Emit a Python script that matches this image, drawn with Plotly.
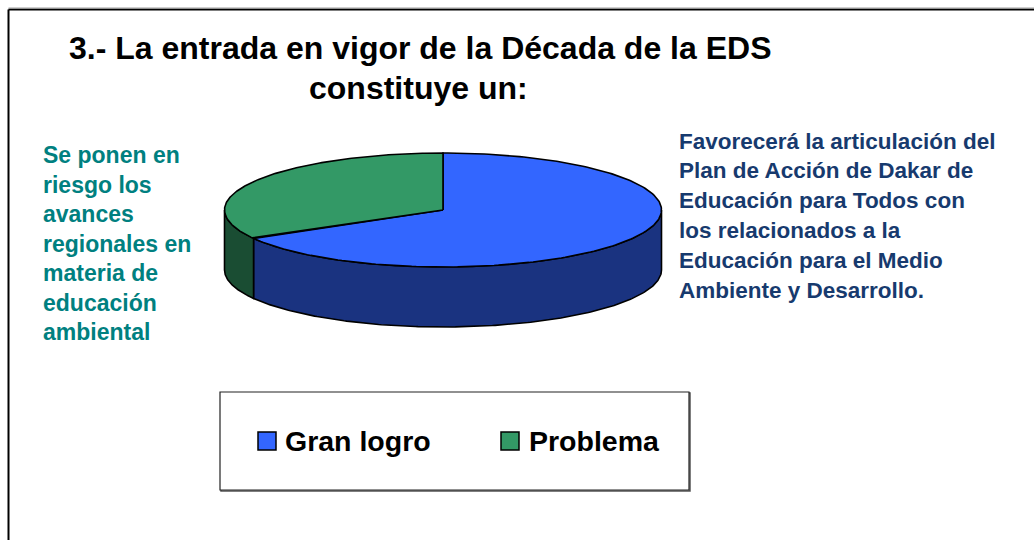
import numpy as np
import plotly.graph_objects as go

# ---------------- data ----------------
categories = ["Gran logro", "Problema"]
values = [66.7, 33.3]
top_colors = ["#3366FF", "#339966"]
side_colors = ["#1A3380", "#1A4D33"]

title_lines = ["3.- La entrada en vigor de la Década de la EDS", "constituye un:"]
left_label_lines = ["Se ponen en", "riesgo los", "avances", "regionales en",
                    "materia de", "educación", "ambiental"]
right_label_lines = ["Favorecerá la articulación del", "Plan de Acción de Dakar de",
                     "Educación para Todos con", "los relacionados a la",
                     "Educación para el Medio", "Ambiente y Desarrollo."]

# ---------------- layout / style constants (screen-pixel coordinates) ----------------
W, H = 1034, 540
CX, CY = 443, 210         # pie centre (top face)
RX, RY = 218.5, 57        # ellipse radii
DEPTH = 60                # pie thickness
FONT = "Liberation Sans, Arial, sans-serif"


def arc(t0, t1, dy=0.0, n=200):
    t = np.radians(np.linspace(t0, t1, n))
    return CX + RX * np.cos(t), CY + dy + RY * np.sin(t)


fig = go.Figure()

total = float(sum(values))
angles = []
start = -90.0
for v in values:
    end = start + 360.0 * v / total
    angles.append((start, end))
    start = end

# visible front sides (theta between 0 and 180 in screen coordinates)
for (t0, t1), col in zip(angles, side_colors):
    for k in (0, 360, -360):
        s0, s1 = max(t0 + k, 0.0), min(t1 + k, 180.0)
        if s1 > s0:
            xa, ya = arc(s0, s1)
            xb, yb = arc(s1, s0, DEPTH)
            xs = np.concatenate([xa, xb, xa[:1]])
            ys = np.concatenate([ya, yb, ya[:1]])
            fig.add_trace(go.Scatter(x=xs, y=ys, mode="lines", fill="toself",
                                     fillcolor=col, line=dict(color="black", width=1.6),
                                     hoverinfo="skip", showlegend=False))

# top faces
for (t0, t1), col in zip(angles, top_colors):
    xa, ya = arc(t0, t1)
    xs = np.concatenate([[CX], xa, [CX]])
    ys = np.concatenate([[CY], ya, [CY]])
    fig.add_trace(go.Scatter(x=xs, y=ys, mode="lines", fill="toself",
                             fillcolor=col, line=dict(color="black", width=1.6),
                             hoverinfo="skip", showlegend=False))

# legend markers
LEG_MARK_X = [267, 510]
LEG_Y = 441
fig.add_trace(go.Scatter(x=LEG_MARK_X, y=[LEG_Y] * len(categories), mode="markers",
                         marker=dict(symbol="square", size=18, color=top_colors,
                                     line=dict(color="black", width=1.5)),
                         hoverinfo="skip", showlegend=False))

annotations = []
# title
for txt, (x, y) in zip(title_lines, [(420, 48), (418, 88)]):
    annotations.append(dict(x=x, y=y, text=txt, showarrow=False, xanchor="center",
                            yanchor="middle",
                            font=dict(family=FONT, size=32, color="black", weight="bold")))
# left label
for i, txt in enumerate(left_label_lines):
    annotations.append(dict(x=41, y=155 + 29.5 * i, text=txt, showarrow=False,
                            xanchor="left", yanchor="middle",
                            font=dict(family=FONT, size=23, color="#008080", weight="bold")))
# right label
for i, txt in enumerate(right_label_lines):
    annotations.append(dict(x=677, y=141 + 29.9 * i, text=txt, showarrow=False,
                            xanchor="left", yanchor="middle",
                            font=dict(family=FONT, size=22.5, color="#173A6E", weight="bold")))
# legend texts
for txt, x in zip(categories, [283, 527]):
    annotations.append(dict(x=x, y=LEG_Y, text=txt, showarrow=False, xanchor="left",
                            yanchor="middle",
                            font=dict(family=FONT, size=28.5, color="black", weight="bold")))

shapes = [
    # chart frame (top and left edges visible)
    dict(type="line", xref="x", yref="y", x0=8.5, x1=1040, y0=9.5, y1=9.5,
         line=dict(color="black", width=2)),
    dict(type="line", xref="x", yref="y", x0=8.5, x1=8.5, y0=9.5, y1=545,
         line=dict(color="black", width=2)),
    dict(type="line", xref="x", yref="y", x0=8.5, x1=1040, y0=7.8, y1=7.8,
         line=dict(color="#BBBBBB", width=1)),
    # legend box with a slight shadow
    dict(type="rect", xref="x", yref="y", x0=221, x1=690, y0=393, y1=491,
         line=dict(color="#555555", width=1.5), layer="below"),
    dict(type="rect", xref="x", yref="y", x0=220, x1=689, y0=392, y1=490,
         line=dict(color="#222222", width=1.2), fillcolor="white", layer="below"),
]

fig.update_layout(
    width=W, height=H,
    margin=dict(l=0, r=0, t=0, b=0),
    paper_bgcolor="white", plot_bgcolor="white",
    xaxis=dict(range=[0, W], visible=False, fixedrange=True),
    yaxis=dict(range=[H, 0], visible=False, fixedrange=True),
    annotations=annotations,
    shapes=shapes,
    showlegend=False,
)

fig.write_html("out.html", config={"displayModeBar": False},
               post_script="document.body.style.margin='0';"
                           "document.body.style.overflow='hidden';")
